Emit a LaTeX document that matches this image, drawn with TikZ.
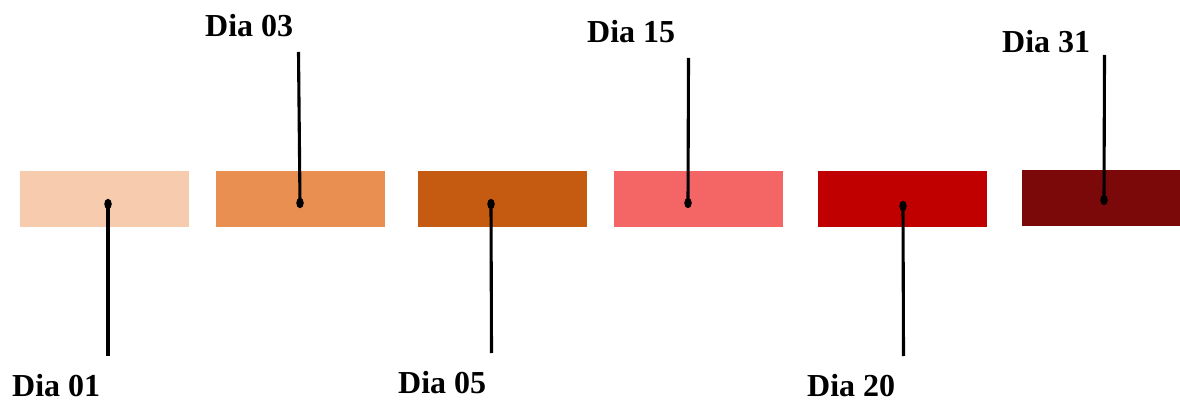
\documentclass[tikz,border=0pt]{standalone}
\usepackage{fontspec}
\setmainfont{Liberation Serif}
\usetikzlibrary{shapes.geometric}
\definecolor{peach}{HTML}{F7CBAD}
\definecolor{apricot}{HTML}{E98F51}
\definecolor{rust}{HTML}{C55A11}
\definecolor{salmon}{HTML}{F46666}
\definecolor{crimson}{HTML}{C00000}
\definecolor{maroon}{HTML}{7B0909}
\tikzset{
  bar/.style={draw=none, rectangle, minimum width=169pt, minimum height=56pt, inner sep=0pt},
  pin/.style={ellipse, fill=black, minimum width=7.5pt, minimum height=10.5pt, inner sep=0pt},
  stem/.style={line width=3.1pt, black},
  daylabel/.style={anchor=base west, inner sep=0pt, font=\fontsize{32}{36}\selectfont\bfseries}
}
\begin{document}
\begin{tikzpicture}[x=1pt, y=-1pt]
\useasboundingbox (0,0) rectangle (1180,403);
% colour bars
\node[bar, fill=peach]   (b1) at (104.5,199) {};
\node[bar, fill=apricot] (b2) at (300.5,199) {};
\node[bar, fill=rust]    (b3) at (502.5,199) {};
\node[bar, fill=salmon]  (b4) at (698.5,199) {};
\node[bar, fill=crimson] (b5) at (902.5,199) {};
\node[bar, fill=maroon, minimum width=158pt, minimum height=56pt] (b6) at (1101,198) {};
% pins
\node[pin] (p1) at (108,204) {};
\node[pin] (p2) at (300,203) {};
\node[pin] (p3) at (491,204) {};
\node[pin] (p4) at (688,203) {};
\node[pin] (p5) at (903,206) {};
\node[pin] (p6) at (1104,200) {};
% stem ends
\coordinate (e1) at (108,356);
\coordinate (e2) at (298.5,52);
\coordinate (e3) at (491.5,353);
\coordinate (e4) at (688.5,58);
\coordinate (e5) at (903.5,356);
\coordinate (e6) at (1104.5,55);
\foreach \i in {1,...,6} \draw[stem] (p\i.center) -- (e\i);
% labels
\node[daylabel] (l1) at (12,396)   {Dia 01};
\node[daylabel] (l2) at (205,37)   {Dia 03};
\node[daylabel] (l3) at (398,393)  {Dia 05};
\node[daylabel] (l4) at (587,43)   {Dia 15};
\node[daylabel] (l5) at (807,396)  {Dia 20};
\node[daylabel] (l6) at (1002,53)  {Dia 31};
\end{tikzpicture}
\end{document}
